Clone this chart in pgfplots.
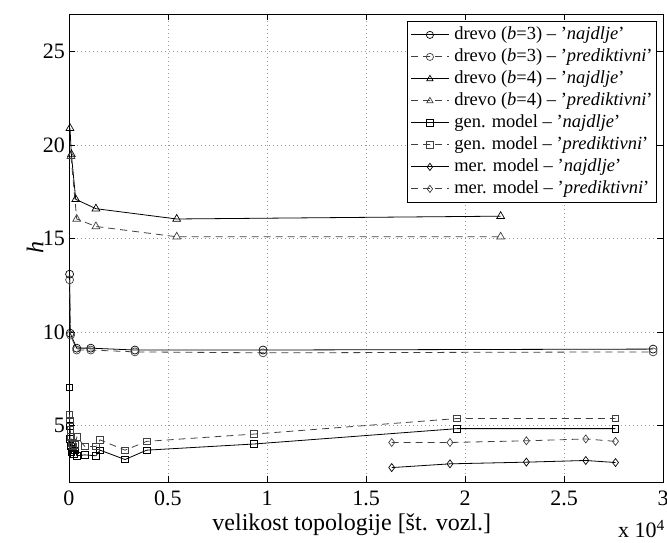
\documentclass[border=0pt]{standalone}
\usepackage{pgfplots}
\pgfplotsset{compat=1.18}
\usepackage{fontspec}
\setmainfont{Liberation Serif}
\begin{document}
\begin{tikzpicture}
\begin{axis}[
  name=ax,
  scale only axis, width=594pt, height=468pt,
  xmin=0, xmax=30000, ymin=2, ymax=27,
  scaled x ticks=false,
  xtick={0,5000,10000,15000,20000,25000,30000},
  xticklabels={0,0.5,1,1.5,2,2.5,3},
  ytick={5,10,15,20,25},
  yticklabels={5,10,15,20,25},
  tick align=inside,
  major tick length=6pt,
  grid=major,
  grid style={dash pattern=on 0.8pt off 3.2pt, gray!80, line width=0.7pt},
  axis line style={line width=0.9pt},
  tick style={line width=0.7pt, black},
  /pgf/number format/assume math mode=true,
  tick label style={font=\rmfamily\fontsize{22}{24}\selectfont, inner sep=0pt},
  xticklabel style={anchor=north, yshift=-9pt, text depth=0pt},
  yticklabel style={anchor=east, xshift=-4pt},
  xlabel={velikost topologije [št. vozl.]},
  ylabel={\textit{h}},
  xlabel style={font=\fontsize{24}{26}\selectfont, at={(axis description cs:0.476,0)}, anchor=center, yshift=-43pt, inner sep=0pt},
  ylabel style={font=\fontsize{24}{26}\selectfont, at={(axis description cs:0,0.5)}, anchor=center, yshift=34pt},
  legend style={at={(axis description cs:1,1)}, anchor=north east, xshift=-6pt, yshift=-7pt,
    draw=black, line width=0.8pt, fill=white,
    font=\fontsize{18.5}{22}\selectfont, row sep=1pt, column sep=4pt, inner sep=3pt,
    nodes={inner sep=1pt, text height=14pt, text depth=5pt}},
  legend cell align=left,
  legend image code/.code={\draw[mark repeat=2, mark phase=2, mark size=3.6pt, #1] plot coordinates {(0pt,0pt) (19pt,0pt) (38pt,0pt)};},
  every axis plot/.append style={line width=0.8pt, mark size=4pt, mark options={solid, line width=0.7pt}},
]
\addplot[black, mark=o] coordinates {(30,13.1) (60,9.95) (390,9.15) (1100,9.15) (3330,9.05) (9800,9.05) (29500,9.1)};
\addlegendentry{drevo (\textit{b}=3) -- '\textit{najdlje}'}
\addplot[black!75, dash pattern=on 7pt off 5pt, mark=o] coordinates {(30,12.8) (80,9.85) (390,9.05) (1100,9.05) (3330,8.95) (9800,8.9) (29500,8.95)};
\addlegendentry{drevo (\textit{b}=3) -- '\textit{prediktivni}'}
\addplot[black, mark=triangle, mark size=4.5pt] coordinates {(50,20.9) (120,19.5) (340,17.1) (1360,16.6) (5440,16.05) (21800,16.2)};
\addlegendentry{drevo (\textit{b}=4) -- '\textit{najdlje}'}
\addplot[black!75, dash pattern=on 7pt off 5pt, mark=triangle, mark size=4.5pt] coordinates {(100,19.4) (390,16.05) (1360,15.65) (5440,15.1) (21800,15.1)};
\addlegendentry{drevo (\textit{b}=4) -- '\textit{prediktivni}'}
\addplot[black, mark=square, mark size=3.3pt] coordinates {(20,7.05) (30,5.0) (50,4.3) (80,3.9) (120,3.6) (180,3.8) (250,3.5) (300,3.7) (400,3.4) (800,3.45) (1360,3.4) (1570,3.7) (2830,3.2) (3920,3.7) (9340,4.03) (19600,4.85) (27600,4.85)};
\addlegendentry{gen. model -- '\textit{najdlje}'}
\addplot[black!75, dash pattern=on 7pt off 5pt, mark=square, mark size=3.3pt] coordinates {(20,5.6) (40,5.3) (60,4.8) (100,4.4) (150,4.1) (200,3.9) (300,4.0) (400,4.4) (800,3.9) (1360,3.9) (1570,4.25) (2830,3.7) (3920,4.17) (9340,4.56) (19600,5.39) (27600,5.39)};
\addlegendentry{gen. model -- '\textit{prediktivni}'}
\addplot[black, mark=diamond] coordinates {(16300,2.77) (19240,2.97) (23100,3.06) (26100,3.15) (27600,3.04)};
\addlegendentry{mer. model -- '\textit{najdlje}'}
\addplot[black!75, dash pattern=on 7pt off 5pt, mark=diamond] coordinates {(16300,4.11) (19240,4.11) (23100,4.2) (26100,4.3) (27600,4.17)};
\addlegendentry{mer. model -- '\textit{prediktivni}'}
\end{axis}
\node[anchor=base east, font=\fontsize{22}{24}\selectfont, inner sep=0pt] at ([xshift=2pt,yshift=-56pt]ax.south east) {x 10\textsuperscript{4}};
\pgfresetboundingbox
\path[use as bounding box] ([xshift=-69pt,yshift=-61pt]ax.south west) rectangle ([xshift=4pt,yshift=14pt]ax.north east);
\end{tikzpicture}
\end{document}
